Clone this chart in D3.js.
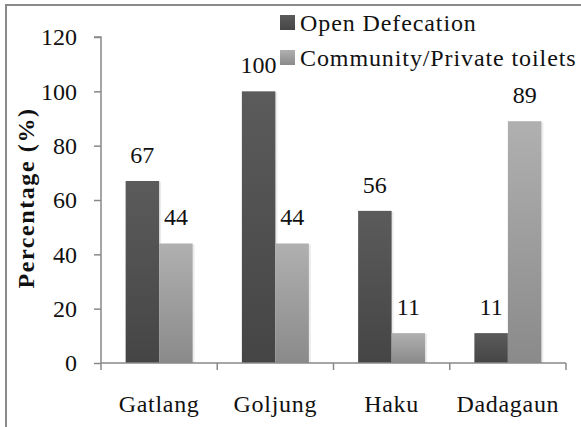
<!DOCTYPE html>
<html>
<head>
<meta charset="utf-8">
<script src="https://cdn.jsdelivr.net/npm/d3@7"></script>
<style>
  body { margin: 0; background: #fff; }
</style>
</head>
<body>
<svg id="chart" width="581" height="427"></svg>
<script>
// data
var villages = ["Gatlang", "Goljung", "Haku", "Dadagaun"];
var seriesNames = ["Open Defecation", "Community/Private toilets"];
var openDefecation = [67, 100, 56, 11];
var toilets = [44, 44, 11, 89];
var yTicks = [0, 20, 40, 60, 80, 100, 120];

var FONT = "'Liberation Serif', 'Times New Roman', serif";
var svg = d3.select("#chart");

// frame (only left and top show in the crop)
svg.append("rect")
    .attr("x", 6).attr("y", 5)
    .attr("width", 600).attr("height", 450)
    .style("fill", "none")
    .style("stroke", "#8a8a8a")
    .style("stroke-width", 2);

// gradients for the bars
var defs = svg.append("defs");
var grads = [
    {id: "gDark", top: "#5b5b5b", bottom: "#454545"},
    {id: "gLight", top: "#b0b0b0", bottom: "#8a8a8a"}
];
grads.forEach(function(g) {
    var lg = defs.append("linearGradient")
        .attr("id", g.id)
        .attr("x1", 0).attr("y1", 0).attr("x2", 0).attr("y2", 1);
    lg.append("stop").attr("offset", "0%").attr("stop-color", g.top);
    lg.append("stop").attr("offset", "100%").attr("stop-color", g.bottom);
});
var fills = ["url(#gDark)", "url(#gLight)"];

var x0 = d3.scaleBand()
    .domain(villages)
    .range([101, 566])
    .paddingInner(0)
    .paddingOuter(0);

var x1 = d3.scaleBand()
    .domain(d3.range(2))
    .range([0, x0.bandwidth()])
    .paddingInner(0)
    .paddingOuter(0.735);

var y = d3.scaleLinear()
    .domain([0, 120])
    .range([363, 37]);

var rows = villages.map(function(v, i) {
    return {name: v, values: [openDefecation[i], toilets[i]]};
});

var groups = svg.selectAll("g.village")
    .data(rows)
    .enter()
    .append("g")
    .attr("class", "village")
    .attr("transform", function(d) { return "translate(" + x0(d.name) + ",0)"; });

// soft shadow right of the bars
groups.selectAll("rect.shadow")
    .data(function(d) { return d.values; })
    .enter()
    .append("rect")
    .attr("class", "shadow")
    .attr("x", function(d, i) { return x1(i) + 2; })
    .attr("y", function(d) { return y(d) + 1; })
    .attr("width", x1.bandwidth())
    .attr("height", function(d) { return y(0) - y(d) - 1; })
    .style("fill", "#ececec");

groups.selectAll("rect.bar")
    .data(function(d) { return d.values; })
    .enter()
    .append("rect")
    .attr("class", "bar")
    .attr("x", function(d, i) { return x1(i); })
    .attr("y", function(d) { return y(d); })
    .attr("width", x1.bandwidth())
    .attr("height", function(d) { return y(0) - y(d); })
    .style("fill", function(d, i) { return fills[i]; });

groups.selectAll("text.val")
    .data(function(d) { return d.values; })
    .enter()
    .append("text")
    .attr("class", "val")
    .attr("x", function(d, i) { return x1(i) + x1.bandwidth() / 2; })
    .attr("y", function(d) { return y(d) - 18; })
    .attr("text-anchor", "middle")
    .style("font-family", FONT)
    .style("font-size", "24px")
    .style("fill", "#111")
    .text(function(d) { return d; });

// y axis
var yAxis = d3.axisLeft(y)
    .tickValues(yTicks)
    .tickSize(7)
    .tickPadding(17);

var gy = svg.append("g")
    .attr("transform", "translate(101,0)")
    .call(yAxis);
gy.select(".domain")
    .attr("d", "M0," + y(0) + "V" + y(120) + "H-7")
    .style("stroke", "#888").style("stroke-width", 1.5);
gy.selectAll(".tick line").style("stroke", "#888").style("stroke-width", 1.5);
gy.selectAll(".tick text")
    .style("font-family", FONT)
    .style("font-size", "24px")
    .style("fill", "#111");

// x axis: line with ticks on the category borders
var xAxisG = svg.append("g");
xAxisG.append("line")
    .attr("x1", 101).attr("x2", 566)
    .attr("y1", y(0)).attr("y2", y(0))
    .style("stroke", "#888").style("stroke-width", 1.5);
var borders = villages.map(function(v) { return x0(v); }).concat([x0.range()[1]]);
xAxisG.selectAll("line.tick")
    .data(borders)
    .enter()
    .append("line")
    .attr("class", "tick")
    .attr("x1", function(d) { return d; })
    .attr("x2", function(d) { return d; })
    .attr("y1", y(0)).attr("y2", y(0) + 7)
    .style("stroke", "#888").style("stroke-width", 1.5);
xAxisG.selectAll("text")
    .data(villages)
    .enter()
    .append("text")
    .attr("x", function(d) { return x0(d) + x0.bandwidth() / 2; })
    .attr("y", 412)
    .attr("text-anchor", "middle")
    .style("font-family", FONT)
    .style("font-size", "24px")
    .style("letter-spacing", "0.7px")
    .style("fill", "#111")
    .text(function(d) { return d; });

// y title
svg.append("text")
    .attr("transform", "translate(34,198) rotate(-90)")
    .attr("text-anchor", "middle")
    .style("font-family", FONT)
    .style("font-size", "24px")
    .style("font-weight", "bold")
    .style("letter-spacing", "1.6px")
    .style("fill", "#111")
    .text("Percentage (%)");

// legend
var legend = svg.selectAll("g.legend")
    .data(seriesNames)
    .enter()
    .append("g")
    .attr("class", "legend")
    .attr("transform", function(d, i) { return "translate(280," + (15 + i * 35) + ")"; });
legend.append("rect")
    .attr("width", 15).attr("height", 15)
    .style("fill", function(d, i) { return fills[i]; });
legend.append("text")
    .attr("x", 20)
    .attr("y", 16)
    .style("font-family", FONT)
    .style("font-size", "24px")
    .style("letter-spacing", "0.9px")
    .style("fill", "#111")
    .text(function(d) { return d; });
</script>
</body>
</html>
